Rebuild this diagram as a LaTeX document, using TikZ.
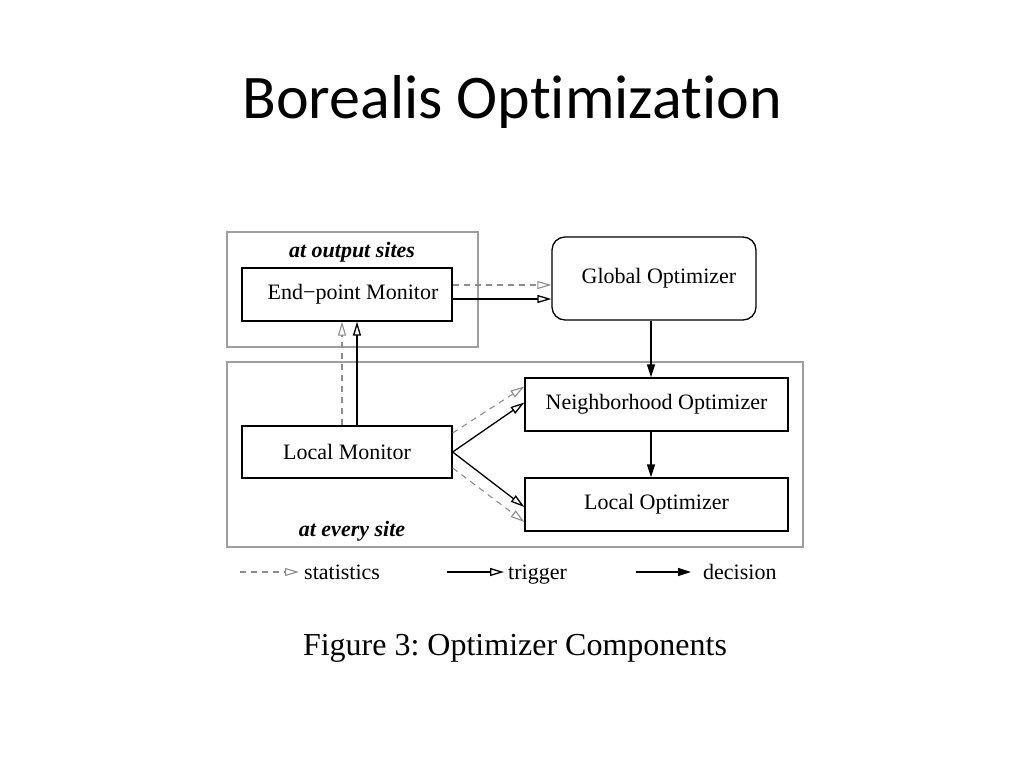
\documentclass[tikz,border=0pt]{standalone}
\usepackage{fontspec}
\setmainfont{Liberation Serif}
\newfontfamily\titulo[Ligatures=NoCommon]{Carlito}
\usetikzlibrary{arrows.meta}
\definecolor{cinza}{gray}{0.62}
\definecolor{tracejado}{gray}{0.55}
\frenchspacing
\begin{document}
\begin{tikzpicture}[x=1pt, y=-1pt,
  every node/.style={font=\fontsize{22}{26}\selectfont},
  caixa/.style={draw, line width=1.3pt, minimum width=210pt, minimum height=53pt, inner sep=0pt},
  moldura/.style={draw=cinza, line width=1.3pt, inner sep=0pt},
  rotulo/.style={font=\fontsize{22}{26}\selectfont\bfseries\itshape},
  estat/.style={draw=tracejado, line width=1.1pt, dash pattern=on 6pt off 5pt,
    -{Triangle[open, length=14pt, width=8pt]}},
  gatilho/.style={line width=1.3pt, -{Triangle[open, length=14pt, width=8pt]}},
  decisao/.style={line width=1.3pt, -{Triangle[length=13pt, width=8pt]}}
]
\useasboundingbox (0,0) rectangle (1024,768);
\node[font=\titulo\fontsize{62}{70}\selectfont, anchor=base] (titulo) at (512,118) {Borealis Optimization};

% molduras
\node[moldura, minimum width=251pt, minimum height=115pt] (saida) at (352.5,289.5) {};
\node[moldura, minimum width=576pt, minimum height=185pt] (todos) at (515,454.5) {};
\node[rotulo] (lsaida) at (352,252) {at output sites};
\node[rotulo] (ltodos) at (352,531) {at every site};

% componentes
\node[caixa] (fim) at (347,294.5) {\hspace*{12pt}End−point Monitor};
\node[caixa, minimum width=204pt, minimum height=83pt, rounded corners=13pt] (global) at (654,278.5) {\hspace*{10pt}Global Optimizer};
\node[caixa, minimum width=263pt] (vizinho) at (656.5,404.5) {Neighborhood Optimizer};
\node[caixa, minimum width=263pt] (otimlocal) at (656.5,504.5) {Local Optimizer};
\node[caixa, minimum height=52pt] (monitor) at (347,452) {Local Monitor};

% ligacoes
\draw[estat] ([yshift=9.5pt]fim.east) -- ([yshift=9.5pt]fim.east -| global.west);
\draw[gatilho] ([yshift=-4.5pt]fim.east) -- ([yshift=-4.5pt]fim.east -| global.west);
\draw[estat] ([xshift=-5pt]monitor.north) -- ([xshift=-5pt]monitor.north |- fim.south);
\draw[gatilho] ([xshift=10pt]monitor.north) -- ([xshift=10pt]monitor.north |- fim.south);
\draw[decisao] ([xshift=-3pt]global.south) -- ([xshift=-3pt]global.south |- vizinho.north);
\draw[decisao] ([xshift=-5.5pt]vizinho.south) -- ([xshift=-5.5pt]vizinho.south |- otimlocal.north);
\draw[estat] ([yshift=19pt]monitor.east) -- ([yshift=18pt]vizinho.west);
\draw[gatilho] (monitor.east) -- ([yshift=2pt]vizinho.west);
\draw[gatilho] (monitor.east) -- ([yshift=-2.5pt]otimlocal.west);
\draw[estat] ([yshift=-16pt]monitor.east) -- ([yshift=-17.5pt]otimlocal.west);

% legenda
\node[anchor=base west, inner sep=0pt] (lestat) at (304,579) {statistics};
\node[anchor=base west, inner sep=0pt] (lgat) at (508,579) {trigger};
\node[anchor=base west, inner sep=0pt] (ldec) at (703,579) {decision};
\coordinate (c1) at (240,572);
\coordinate (c2) at (447,572);
\coordinate (c3) at (636,572);
\draw[estat] (c1) -- ([xshift=-5pt]c1 -| lestat.west);
\draw[gatilho] (c2) -- ([xshift=-4pt]c2 -| lgat.west);
\draw[decisao] (c3) -- ([xshift=-12pt]c3 -| ldec.west);

\node[font=\fontsize{32}{38}\selectfont, anchor=base] (figura) at (515,655) {Figure 3: Optimizer Components};
\end{tikzpicture}
\end{document}
